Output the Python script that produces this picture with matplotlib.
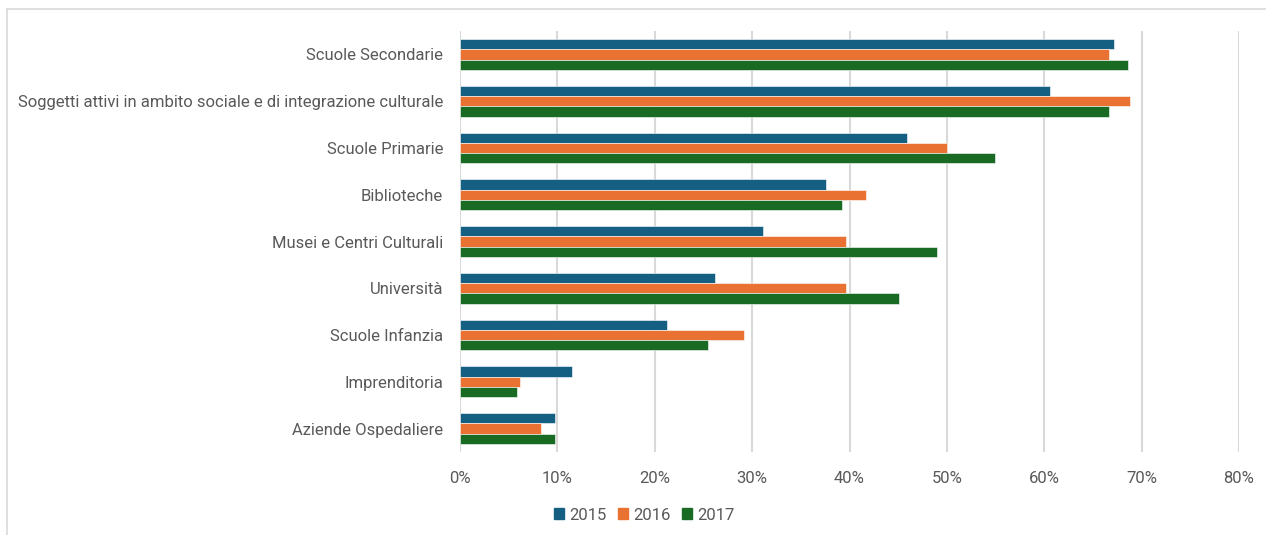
import numpy as np
import matplotlib
matplotlib.use('Agg')
import matplotlib.pyplot as plt
from matplotlib.lines import Line2D
from matplotlib.ticker import PercentFormatter

categories = ['Scuole Secondarie',
              'Soggetti attivi in ambito sociale e di integrazione culturale',
              'Scuole Primarie', 'Biblioteche', 'Musei e Centri Culturali',
              'Università', 'Scuole Infanzia', 'Imprenditoria', 'Aziende Ospedaliere']
years = ['2015', '2016', '2017']
v2015 = [67.2, 60.6, 45.9, 37.6, 31.1, 26.2, 21.3, 11.5, 9.8]
v2016 = [66.7, 68.8, 50.0, 41.7, 39.6, 39.6, 29.2, 6.2, 8.3]
v2017 = [68.6, 66.7, 54.9, 39.2, 49.0, 45.1, 25.5, 5.9, 9.8]
colors = ['#156082', '#E97132', '#196B24']

plt.rcParams['font.family'] = ['Roboto', 'DejaVu Sans']
txt = '#595959'

fig = plt.figure(figsize=(12.66, 5.35), dpi=100)
ax = fig.add_axes([460 / 1266, 1 - 452 / 535, 779 / 1266, 421 / 535])

y = np.arange(len(categories))
h = 0.22
for i, (vals, yr) in enumerate(zip([v2015, v2016, v2017], years)):
    ax.barh(y + (i - 1) * h, vals, height=h, color=colors[i], label=yr,
            edgecolor='white', linewidth=0.4, zorder=3)

ax.set_ylim(len(categories) - 0.5, -0.5)
ax.set_xlim(0, 80)
ax.set_xticks(range(0, 81, 10))
ax.xaxis.set_major_formatter(PercentFormatter(decimals=0))
ax.set_yticks(y)
ax.set_yticklabels(categories)
ax.tick_params(axis='both', length=0, labelsize=12, labelcolor=txt)
ax.tick_params(axis='x', pad=14)
ax.tick_params(axis='y', pad=12)
ax.grid(axis='x', color='#d9d9d9', linewidth=1.5, zorder=0)
for s in ax.spines.values():
    s.set_visible(False)

handles = [plt.Rectangle((0, 0), 1, 1, color=c) for c in colors]
fig.legend(handles, years, loc='center', bbox_to_anchor=(644 / 1266, 1 - 515 / 535),
           ncol=3, frameon=False, fontsize=12, labelcolor=txt,
           handlelength=0.6, handleheight=0.6, handletextpad=0.3, columnspacing=0.7)

# light frame along the top and left edges
fig.add_artist(Line2D([7 / 1266, 7 / 1266], [0, 1 - 9 / 535], transform=fig.transFigure,
                      color='#d9d9d9', linewidth=1.2))
fig.add_artist(Line2D([7 / 1266, 1], [1 - 9 / 535, 1 - 9 / 535], transform=fig.transFigure,
                      color='#d9d9d9', linewidth=1.2))

fig.savefig('out.png', dpi=100, facecolor='white')
